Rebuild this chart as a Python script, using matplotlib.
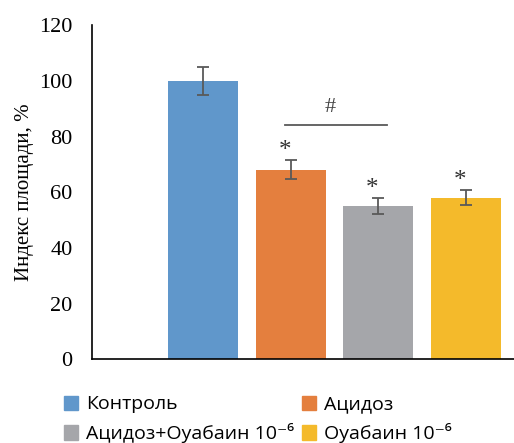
import matplotlib.pyplot as plt
from matplotlib.patches import Patch

labels = ["Контроль", "Ацидоз", "Ацидоз+Оуабаин 10⁻⁶", "Оуабаин 10⁻⁶"]
values = [100, 68, 55, 58]
errors = [5, 3.4, 2.8, 2.7]
colors = ["#6097CB", "#E47F3E", "#A5A6AA", "#F4BA2B"]
stars = ["", "*", "*", "*"]

fig = plt.figure(figsize=(5.14, 4.43), dpi=100)
ax = fig.add_axes([0.179, 0.1885, 0.821, 0.755])

x = [1, 2, 3, 4]
ax.bar(x, values, width=0.8, color=colors, yerr=errors,
       error_kw=dict(ecolor="#595959", elinewidth=1.3, capsize=4, capthick=1.3))

for xi, v, e, s in zip(x, values, errors, stars):
    if s:
        ax.text(xi - 0.07, v + e + 3.5, s, ha="center", va="center",
                fontsize=18, family="Liberation Serif", color="#333333")

# significance bar between Ацидоз и Ацидоз+Оуабаин
ax.plot([1.93, 3.1], [84, 84], color="#595959", lw=1.3)
ax.text(2.45, 90.5, "#", ha="center", va="center", fontsize=16,
        family="Liberation Serif", color="#444444")

ax.set_xlim(-0.27, 4.55)
ax.set_ylim(0, 120)
ax.set_yticks(range(0, 121, 20))
ax.set_xticks([])
ax.tick_params(axis="y", length=0, labelsize=16, pad=14)
for t in ax.get_yticklabels():
    t.set_family("Liberation Serif")
ax.set_ylabel("Индекс площади, %", family="Liberation Serif", fontsize=15, labelpad=4)
ax.spines["top"].set_visible(False)
ax.spines["right"].set_visible(False)
ax.spines["left"].set_linewidth(1.2)
ax.spines["bottom"].set_linewidth(1.2)

order = [0, 2, 1, 3]
handles = [Patch(color=colors[i]) for i in order]
fig.legend(handles, [labels[i] for i in order], ncol=2, loc="lower left",
           bbox_to_anchor=(0.09, -0.04),
           frameon=False, prop={"family": ["Open Sans", "DejaVu Sans"], "size": 14},
           handlelength=0.75, handleheight=0.75, handletextpad=0.4,
           columnspacing=0.4, labelspacing=0.5)

fig.savefig("out.png", dpi=100)
